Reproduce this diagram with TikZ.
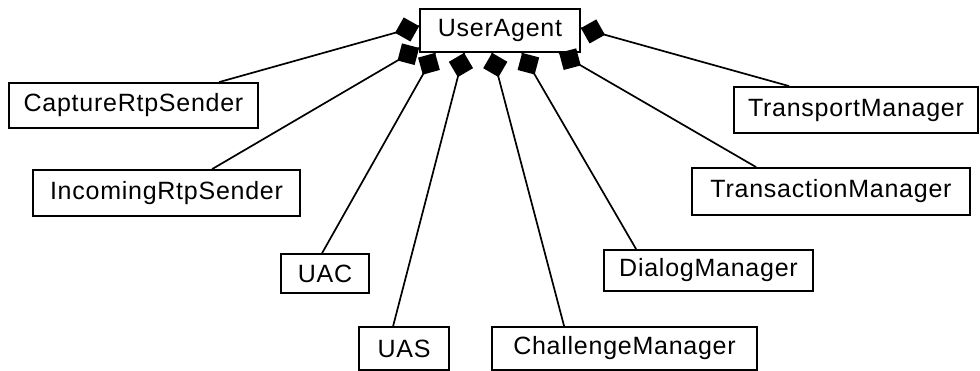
\documentclass[tikz,border=0pt]{standalone}
\usepackage{fontspec}
\setmainfont{Liberation Sans}[LetterSpace=3]
\usetikzlibrary{calc}

\begin{document}
\begin{tikzpicture}[x=1pt,y=-1pt,
  cls/.style={draw,line width=1.8pt,fill=white,inner sep=0pt,
    font=\fontsize{25}{30}\selectfont},
  link/.style={line width=1.7pt},
  compfill/.style={fill=black}]
  \useasboundingbox (0,0) rectangle (980,371);

  % classes
  \node[cls,minimum width=160pt,minimum height=43pt] (ua)   at (500,30.5)  {UserAgent};
  \node[cls,minimum width=249pt,minimum height=45pt] (cap)  at (133.5,105.5) {CaptureRtpSender};
  \node[cls,minimum width=267pt,minimum height=46pt] (inc)  at (166.5,193) {IncomingRtpSender};
  \node[cls,minimum width=88pt,minimum height=39pt]  (uac)  at (325,273.5) {UAC};
  \node[cls,minimum width=90pt,minimum height=43pt]  (uas)  at (404,348.5) {UAS};
  \node[cls,minimum width=265pt,minimum height=43pt] (chal) at (624.5,348.5) {ChallengeManager};
  \node[cls,minimum width=209pt,minimum height=41pt] (dia)  at (708.5,270.5) {DialogManager};
  \node[cls,minimum width=278pt,minimum height=47pt] (tra)  at (831,191.5) {TransactionManager};
  \node[cls,minimum width=244pt,minimum height=46pt] (tsp)  at (856,110)   {TransportManager};

  % attachment points on the part classes
  \coordinate (cap-a)  at ($(cap.north west)+(211,0)$);
  \coordinate (inc-a)  at ($(inc.north west)+(180,0)$);
  \coordinate (uac-a)  at ($(uac.north west)+(42,0)$);
  \coordinate (uas-a)  at ($(uas.north west)+(35,0)$);
  \coordinate (chal-a) at ($(chal.north west)+(73,0)$);
  \coordinate (dia-a)  at ($(dia.north west)+(33,0)$);
  \coordinate (tra-a)  at ($(tra.north west)+(65,0)$);
  \coordinate (tsp-a)  at ($(tsp.north west)+(56,0)$);

  % attachment points on UserAgent (diamond tips)
  \coordinate (ua-cap)  at ($(ua.north west)+(0,18)$);
  \coordinate (ua-inc)  at ($(ua.south west)+(0,-5)$);
  \coordinate (ua-uac)  at ($(ua.south west)+(16,0)$);
  \coordinate (ua-uas)  at ($(ua.south west)+(45,0)$);
  \coordinate (ua-chal) at ($(ua.south west)+(73,0)$);
  \coordinate (ua-dia)  at ($(ua.south west)+(103,0)$);
  \coordinate (ua-tra)  at ($(ua.south west)+(140,0)$);
  \coordinate (ua-tsp)  at ($(ua.north east)+(0,20)$);

  % composition links with a filled diamond at the whole (UserAgent) end
  \foreach \p in {cap,inc,uac,uas,chal,dia,tra,tsp}{
    \draw[link] (\p-a) -- (ua-\p);
    \coordinate (dmid) at ($(ua-\p)!12.5pt!(\p-a)$);
    \coordinate (dback) at ($(ua-\p)!25pt!(\p-a)$);
    \coordinate (dl) at ($(dmid)!12.5pt!90:(ua-\p)$);
    \coordinate (dr) at ($(dmid)!12.5pt!-90:(ua-\p)$);
    \fill[compfill] (ua-\p) -- (dl) -- (dback) -- (dr) -- cycle;
  }
\end{tikzpicture}
\end{document}
